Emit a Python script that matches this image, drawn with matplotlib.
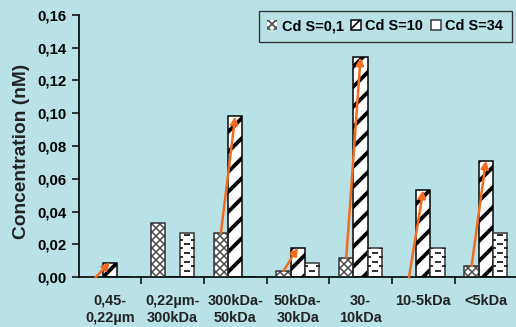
import matplotlib
matplotlib.use('Agg')
import matplotlib.pyplot as plt
import numpy as np

# fraction labels and Cd concentrations (nM)
fractions = ['0,45-\n0,22µm', '0,22µm-\n300kDa', '300kDa-\n50kDa', '50kDa-\n30kDa',
             '30-\n10kDa', '10-5kDa', '<5kDa']
cd_s01 = [0.0, 0.033, 0.027, 0.004, 0.012, 0.0, 0.007]
cd_s10 = [0.009, 0.0, 0.098, 0.018, 0.134, 0.053, 0.071]
cd_s34 = [0.0, 0.027, 0.0, 0.009, 0.018, 0.018, 0.027]
series_names = ['Cd S=0,1', 'Cd S=10', 'Cd S=34']
yticks = [0.0, 0.02, 0.04, 0.06, 0.08, 0.10, 0.12, 0.14, 0.16]

bg = '#b9e2e6'
orange = '#f26b21'
edge = '#333333'

plt.rcParams['font.family'] = ['Liberation Sans', 'DejaVu Sans']
plt.rcParams['font.weight'] = 'bold'

fig = plt.figure(figsize=(4.3, 2.725), dpi=120, facecolor=bg)
ax = fig.add_axes([78.5 / 516, 1 - 277.3 / 327, 1 - 78.5 / 516, (277.3 - 14.7) / 327])
ax.set_facecolor(bg)

x = np.arange(len(fractions))
w = 0.228

# S=0,1 : grey cross-hatch
b1 = ax.bar(x - w, cd_s01, w, color='white', edgecolor='#4a4a4a', hatch='xxxxx',
            linewidth=0, label=series_names[0], zorder=2)
ax.bar(x - w, cd_s01, w, fill=False, edgecolor=edge, linewidth=0.9, zorder=3)
# S=10 : thick black stripes
b2 = ax.bar(x, cd_s10, w, color='white', edgecolor='black', hatch='//',
            linewidth=0.9, label=series_names[1], zorder=2)
# S=34 : white with short dashes
b3 = ax.bar(x + w, cd_s34, w, color='white', edgecolor=edge,
            linewidth=0.9, label=series_names[2], zorder=2)

for p in b1:
    if hasattr(p, 'set_hatch_linewidth'):
        p.set_hatch_linewidth(0.9)
for p in b2:
    if hasattr(p, 'set_hatch_linewidth'):
        p.set_hatch_linewidth(2.3)

# staggered dashes inside the S=34 bars
step = 0.0027
for p in b3:
    h = p.get_height()
    if h <= 0:
        continue
    x0, bw = p.get_x(), p.get_width()
    ys = np.arange(step * 1.5, h, step)
    for k, yy in enumerate(ys):
        xs = [x0 + bw / 2] if k % 2 == 0 else [x0, x0 + bw]
        ln, = ax.plot(xs, [yy] * len(xs), ls='none', marker='_', ms=3.2,
                      mew=1.1, color='#222222', zorder=2.5)
        ln.set_clip_path(p)

# orange arrows from S=0,1 top to S=10 top
for i in range(len(fractions)):
    if cd_s10[i] > 0:
        ax.annotate('', xy=(x[i], cd_s10[i]), xytext=(x[i] - w, cd_s01[i]),
                    arrowprops=dict(arrowstyle='-|>', color=orange, lw=1.5,
                                    mutation_scale=9, shrinkA=0, shrinkB=0),
                    zorder=5)

ax.set_xlim(-0.5, 6.48)
ax.set_ylim(0, 0.16)
ax.set_yticks(yticks)
ax.set_yticklabels([f'{v:.2f}'.replace('.', ',') for v in yticks], fontsize=9, fontweight='bold')
ax.set_xticks(x)
ax.set_xticklabels(fractions, fontsize=8.7, fontweight='bold', color='#222222', linespacing=1.25)
ax.set_xticks(np.arange(0.5, 6.5, 1), minor=True)
ax.tick_params(axis='x', which='major', length=0, pad=10)
ax.tick_params(axis='x', which='minor', length=4, direction='out', width=0.9)
ax.tick_params(axis='y', length=4, width=0.9, pad=3, colors='black')
for s in ['top', 'right']:
    ax.spines[s].set_visible(False)
for s in ['left', 'bottom']:
    ax.spines[s].set_linewidth(1.0)

fig.text(22 / 516, 1 - 151.4 / 327, 'Concentration (nM)', rotation=90,
         ha='center', va='center', fontsize=11.5, fontweight='bold', color='#222222')

leg = fig.legend(handles=[b1, b2, b3], loc='upper right',
                 bbox_to_anchor=(511.7 / 516, 1 - 10.7 / 327), ncol=3,
                 fontsize=8.7, frameon=True, fancybox=False, framealpha=1,
                 facecolor=bg, edgecolor=edge, borderaxespad=0,
                 handlelength=0.7, handleheight=0.7, handletextpad=0.3,
                 columnspacing=0.5, borderpad=0.6)
leg.get_frame().set_linewidth(0.8)

fig.savefig('out.png', dpi=120, facecolor=bg)
